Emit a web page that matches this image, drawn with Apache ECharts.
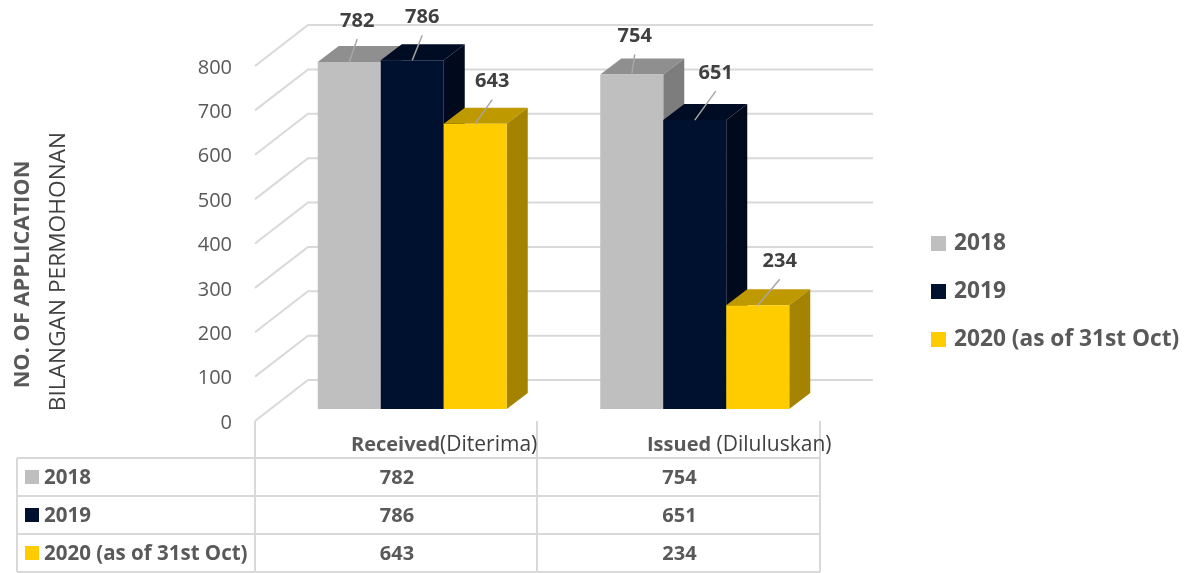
<!DOCTYPE html>
<html>
<head>
<meta charset="utf-8">
<title>Applications</title>
<script src="https://cdn.jsdelivr.net/npm/echarts@6/dist/echarts.min.js"></script>
<style>
  html, body { margin: 0; padding: 0; background: #fff; }
  #chart { width: 1187px; height: 573px; }
</style>
</head>
<body>
<div id="chart"></div>
<script>
const categories = ['Received', 'Issued'];
const categoryNotes = ['(Diterima)', '(Diluluskan)'];
const seriesNames = ['2018', '2019', '2020 (as of 31st Oct)'];
const values2018 = [782, 754];
const values2019 = [786, 651];
const values2020 = [643, 234];
const yTicks = [0, 100, 200, 300, 400, 500, 600, 700, 800];

const allValues = [values2018, values2019, values2020];

// colours per series: front, top, side
const shades = [
  ['#bfbfbf', '#8f8f8f', '#7d7d7d'],
  ['#00102f', '#000b24', '#000a1c'],
  ['#ffcc00', '#bf9900', '#a38300']
];
const FONT = '"Open Sans", sans-serif';
const TEXT = '#595959';
const LINE = '#d9d9d9';

// wall depth and bar depth of the fake 3D
const wallDx = 53, wallDy = 41;
const planeDx = 16, planeDy = 12;
const barDx = 21, barDy = 16, barW = 63;

// where each value label sits relative to the bar's top-front centre
const labelShift = [
  [[8, -41], [10, -43], [17, -42]],
  [[3, -38], [21, -47], [22, -44]]
];

function renderWall(params, api) {
  const c = api.coord([0, api.value(1)]);
  const left = params.coordSys.x;
  const right = left + params.coordSys.width;
  return {
    type: 'polyline',
    silent: true,
    shape: { points: [[left, c[1]], [left + wallDx, c[1] - wallDy], [right + wallDx, c[1] - wallDy]] },
    style: { fill: 'none', stroke: LINE, lineWidth: 2 }
  };
}

function makeBarRender(seriesIndex) {
  return function (params, api) {
    const cat = api.value(0);
    const val = api.value(1);
    const top = api.coord([cat, val]);
    const base = api.coord([cat, 0]);
    const x0 = top[0] + planeDx + (seriesIndex - 1.5) * barW;
    const x1 = x0 + barW;
    const yt = top[1] - planeDy;
    const yb = base[1] - planeDy;
    const col = shades[seriesIndex];
    const cx = x0 + barW / 2;
    const shift = labelShift[cat][seriesIndex];
    return {
      type: 'group',
      children: [
        {
          type: 'polygon',
          shape: { points: [[x0, yt], [x0 + barDx, yt - barDy], [x1 + barDx, yt - barDy], [x1, yt]] },
          style: { fill: col[1] }
        },
        {
          type: 'polygon',
          shape: { points: [[x1, yt], [x1 + barDx, yt - barDy], [x1 + barDx, yb - barDy], [x1, yb]] },
          style: { fill: col[2] }
        },
        {
          type: 'rect',
          shape: { x: x0, y: yt, width: barW, height: yb - yt },
          style: { fill: col[0] }
        },
        {
          type: 'line',
          z2: 50,
          shape: { x1: cx, y1: yt, x2: cx + shift[0], y2: yt + shift[1] + 18 },
          style: { stroke: '#a6a6a6', lineWidth: 1.5 }
        },
        {
          type: 'text',
          z2: 51,
          x: cx + shift[0],
          y: yt + shift[1],
          style: {
            text: String(val),
            fill: '#404040',
            font: 'bold 20px ' + FONT,
            align: 'center',
            verticalAlign: 'middle'
          }
        }
      ]
    };
  };
}

function buildTable() {
  const els = [];
  const hLines = [458, 496, 534, 572];
  const cols = [255, 537, 820];
  const hline = (x1, y1, x2, y2) => ({
    type: 'line', silent: true,
    shape: { x1, y1, x2, y2 },
    style: { stroke: LINE, lineWidth: 2 }
  });
  hLines.forEach(y => els.push(hline(17, y, 820, y)));
  els.push(hline(17, 458, 17, 572));
  cols.forEach(x => els.push(hline(x, 421, x, 572)));

  seriesNames.forEach((name, i) => {
    const mid = (hLines[i] + hLines[i + 1]) / 2;
    els.push({
      type: 'rect', silent: true,
      shape: { x: 25, y: mid - 7, width: 14, height: 14 },
      style: { fill: shades[i][0] }
    });
    els.push({
      type: 'text', silent: true, x: 44, y: mid + 1,
      style: { text: name, fill: TEXT, font: 'bold 20.5px ' + FONT, align: 'left', verticalAlign: 'middle' }
    });
    categories.forEach((c, j) => {
      els.push({
        type: 'text', silent: true, x: (cols[j] + cols[j + 1]) / 2 + 1, y: mid + 1,
        style: { text: String(allValues[i][j]), fill: TEXT, font: 'bold 20px ' + FONT, align: 'center', verticalAlign: 'middle' }
      });
    });
  });

  // category headings, these sit off-centre in the original
  const headX = [351, 647];
  categories.forEach((c, j) => {
    els.push({
      type: 'text', silent: true, x: headX[j], y: 445,
      style: {
        text: '{b|' + c + '}{n|' + (j === 1 ? ' ' : '') + categoryNotes[j] + '}',
        align: 'left', verticalAlign: 'middle',
        rich: {
          b: { font: 'bold 20px ' + FONT, fill: TEXT },
          n: { font: '21px ' + FONT, fill: '#404040' }
        }
      }
    });
  });

  // axis titles
  els.push({
    type: 'text', silent: true, x: 23, y: 274.5, rotation: Math.PI / 2,
    style: { text: 'NO. OF APPLICATION', fill: TEXT, font: 'bold 21.8px ' + FONT, align: 'center', verticalAlign: 'middle' }
  });
  els.push({
    type: 'text', silent: true, x: 59, y: 271.5, rotation: Math.PI / 2,
    style: { text: 'BILANGAN PERMOHONAN', fill: '#404040', font: '22.7px ' + FONT, align: 'center', verticalAlign: 'middle' }
  });
  return els;
}

const chart = echarts.init(document.getElementById('chart'), null, { renderer: 'canvas' });

const barSeries = seriesNames.map((name, s) => ({
  name,
  type: 'custom',
  renderItem: makeBarRender(s),
  encode: { x: 0, y: 1 },
  itemStyle: { color: shades[s][0] },
  z: 3 + s,
  data: allValues[s].map((v, i) => [i, v])
}));

chart.setOption({
  animation: false,
  backgroundColor: '#fff',
  grid: { left: 255, top: 66, width: 565, height: 355 },
  legend: {
    data: seriesNames,
    orient: 'vertical',
    left: 931,
    top: 232,
    padding: 0,
    icon: 'rect',
    itemWidth: 15,
    itemHeight: 15,
    itemGap: 25,
    selectedMode: false,
    textStyle: { color: TEXT, fontFamily: FONT, fontWeight: 'bold', fontSize: 22.7, padding: [0, 0, 0, 3] }
  },
  xAxis: {
    type: 'category',
    data: categories,
    axisLine: { show: false },
    axisTick: { show: false },
    axisLabel: { show: false },
    splitLine: { show: false }
  },
  yAxis: {
    type: 'value',
    min: 0,
    max: 800,
    interval: 100,
    axisLine: { show: false },
    axisTick: { show: false },
    splitLine: { show: false },
    axisLabel: { color: TEXT, fontFamily: FONT, fontSize: 20, margin: 23, verticalAlign: 'top', lineHeight: 4 }
  },
  graphic: buildTable(),
  series: [
    {
      type: 'custom',
      silent: true,
      renderItem: renderWall,
      encode: { x: 0, y: 1 },
      z: 1,
      data: yTicks.map(t => [0, t])
    }
  ].concat(barSeries)
});
</script>
</body>
</html>
